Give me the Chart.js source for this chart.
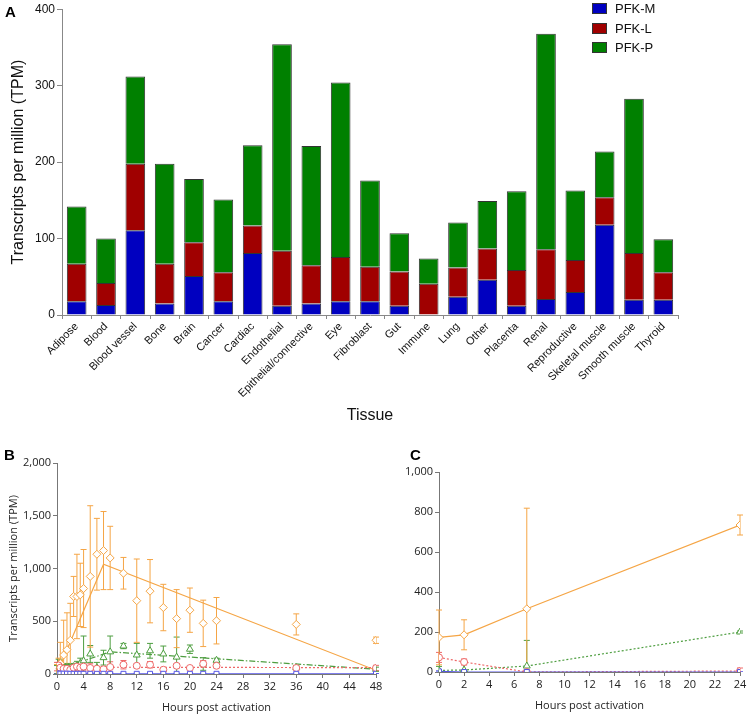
<!DOCTYPE html>
<html>
<head>
<meta charset="utf-8">
<script src="https://cdn.jsdelivr.net/npm/chart.js@4"></script>
<style>
  body { margin: 0; background: #fff; width: 750px; height: 720px; position: relative; overflow: hidden; }
  canvas { position: absolute; }
  .panel { position: absolute; font: bold 15px "Liberation Sans", Arial, sans-serif; color: #000; }
  .legend { position: absolute; left: 592px; top: 2px; font: 13px "Liberation Sans", Arial, sans-serif; color: #111; }
  .legend div { height: 19.5px; line-height: 13px; white-space: nowrap; }
  .legend span { display: inline-block; width: 13px; height: 9px; border: 1px solid #333; margin-right: 8px; vertical-align: -1px; }
</style>
</head>
<body>
<canvas id="chartA" width="750" height="430" style="left:0;top:0"></canvas>
<canvas id="chartB" width="400" height="280" style="left:0;top:440px"></canvas>
<canvas id="chartC" width="355" height="280" style="left:395px;top:440px"></canvas>
<div class="panel" style="left:5px;top:3px">A</div>
<div class="panel" style="left:4px;top:446px">B</div>
<div class="panel" style="left:410px;top:446px">C</div>
<div class="legend">
  <div><span style="background:#0000C0"></span>PFK-M</div>
  <div><span style="background:#A00000"></span>PFK-L</div>
  <div><span style="background:#008000"></span>PFK-P</div>
</div>
<script>
// Panel A: TPM per tissue, stacked
const tissues = ["Adipose", "Blood", "Blood vessel", "Bone", "Brain", "Cancer", "Cardiac", "Endothelial",
  "Epithelial/connective", "Eye", "Fibroblast", "Gut", "Immune", "Lung", "Other", "Placenta", "Renal",
  "Reproductive", "Skeletal muscle", "Smooth muscle", "Thyroid"];
const pfkM = [18, 13, 111, 15, 51, 18, 81, 12, 15, 18, 18, 12, 0, 24, 46, 12, 21, 30, 118, 20, 20];
const pfkL = [49, 29, 87, 52, 44, 38, 36, 72, 50, 58, 45, 45, 41, 38, 41, 47, 65, 42, 36, 61, 36];
const pfkP = [75, 58, 114, 131, 83, 95, 105, 270, 156, 228, 113, 50, 33, 59, 62, 103, 282, 91, 60, 202, 43];

// Panel B: time course after activation (hours)
const timesB = [0, 0.25, 0.5, 1, 1.5, 2, 2.5, 3, 3.5, 4, 5, 6, 7, 8, 10, 12, 14, 16, 18, 20, 22, 24, 36, 48];
const orangeB = [30, 60, 100, 180, 230, 320, 735, 735, 750, 810, 925, 1135, 1170, 1100, 955, 695, 785, 630, 525, 605, 480, 505, 470, 320];
const orangeSdB = [60, 90, 200, 330, 350, 350, 190, 400, 300, 370, 670, 340, 370, 300, 150, 395, 300, 220, 275, 210, 220, 220, 100, 30];
const greenB = [40, 60, 70, 50, 60, 60, 70, 80, 100, 125, 190, 60, 155, 210, 265, 180, 220, 190, 160, 235, 95, 130, 60, 45];
const greenSdB = [40, 80, 60, 40, 40, 30, 30, 40, 50, 235, 80, 50, 70, 150, 25, 110, 70, 75, 190, 40, 60, 20, 20, 20];
const redB = [70, 80, 60, 50, 50, 40, 60, 70, 60, 70, 57, 50, 45, 66, 88, 78, 88, 40, 78, 57, 97, 78, 57, 57];
const redSdB = [40, 30, 40, 30, 20, 30, 30, 30, 40, 40, 40, 20, 20, 50, 40, 20, 30, 15, 20, 15, 30, 20, 15, 25];
const blueB = [3, 3, 3, 3, 3, 2, 2, 2, 2, 2, 2, 2, 2, 2, 2, 2, 2, 2, 2, 2, 2, 2, 2, 2];
const blueSdB = [2, 2, 2, 2, 2, 2, 2, 2, 2, 2, 2, 2, 2, 2, 2, 2, 2, 2, 2, 2, 2, 2, 2, 2];
// trend lines drawn in panel B
const orangeLineT = [0, 7, 48], orangeLineB = [10, 1040, 35];
const greenLineT = [0, 8, 48], greenLineB = [40, 210, 45];
const redLineT = [0, 48], redLineB = [65, 60];
const blueLineT = [0, 48], blueLineB = [2, 2];

// Panel C
const timesC = [0, 2, 7, 24];
const orangeC = [173, 186, 316, 735], orangeSdC = [137, 75, 503, 50];
const greenC = [8, 10, 30, 200], greenSdC = [20, 40, 128, 5];
const redC = [73, 50, 0, 5], redSdC = [25, 15, 2, 15];
const blueC = [3, 0, 0, 0], blueSdC = [3, 1, 1, 1];

const ORANGE = "#F5A545", GREEN = "#4E9E40", RED = "#EE6868", BLUE = "#5656E6";
const sans = "'Open Sans', 'Noto Sans', sans-serif";

const pts = (xs, ys) => xs.map((x, i) => ({ x, y: ys[i] }));

// draws vertical error bars from each dataset's sd array
const errorBars = {
  id: "errorBars",
  beforeDatasetsDraw(chart) {
    const { ctx, chartArea, scales: { x, y } } = chart;
    ctx.save();
    ctx.beginPath();
    ctx.rect(chartArea.left - 5, chartArea.top - 5, chartArea.width + 10, chartArea.height + 5);
    ctx.clip();
    chart.data.datasets.forEach(ds => {
      if (!ds.sd) return;
      ctx.strokeStyle = ds.borderColor;
      ctx.lineWidth = 1;
      ds.data.forEach((p, i) => {
        const px = x.getPixelForValue(p.x);
        const hi = y.getPixelForValue(p.y + ds.sd[i]);
        const lo = y.getPixelForValue(p.y - ds.sd[i]);
        ctx.beginPath();
        ctx.moveTo(px, hi); ctx.lineTo(px, lo);
        ctx.moveTo(px - 3, hi); ctx.lineTo(px + 3, hi);
        ctx.moveTo(px - 3, lo); ctx.lineTo(px + 3, lo);
        ctx.stroke();
      });
    });
    ctx.restore();
  }
};

new Chart(document.getElementById("chartA"), {
  type: "bar",
  data: {
    labels: tissues,
    datasets: [
      { label: "PFK-M", data: pfkM, backgroundColor: "#0000C0" },
      { label: "PFK-L", data: pfkL, backgroundColor: "#A00000" },
      { label: "PFK-P", data: pfkP, backgroundColor: "#008000" }
    ]
  },
  options: {
    responsive: false,
    animation: false,
    layout: { padding: { left: 0, right: 72, top: 8, bottom: 0 } },
    datasets: { bar: { borderColor: "#333", borderWidth: 1, barPercentage: 0.67, categoryPercentage: 1 } },
    plugins: { legend: { display: false }, tooltip: { enabled: false } },
    scales: {
      x: {
        stacked: true,
        grid: { drawOnChartArea: false, tickLength: 4, color: "#888" },
        border: { color: "#888" },
        ticks: { minRotation: 45, maxRotation: 45, padding: 1, color: "#111", font: { family: "'Liberation Sans', Arial", size: 11 } },
        title: { display: true, text: "Tissue", color: "#111", font: { family: "'Liberation Sans', Arial", size: 16 }, padding: { top: 0, bottom: 5 } },
        afterFit: s => { s.height = 115; }
      },
      y: {
        stacked: true, min: 0, max: 400,
        grid: { drawOnChartArea: false, tickLength: 5, color: "#888" },
        border: { color: "#888" },
        ticks: { stepSize: 100, padding: 2, color: "#111", font: { family: "'Liberation Sans', Arial", size: 12 } },
        title: { display: true, text: "Transcripts per million (TPM)", color: "#111", font: { family: "'Liberation Sans', Arial", size: 16 }, padding: { top: 9, bottom: 0 } },
        afterFit: s => { s.width = 62; }
      }
    }
  }
});

function lineSet(xs, ys, color, dash) {
  return { data: pts(xs, ys), showLine: true, pointRadius: 0, borderColor: color, borderWidth: 1.2, borderDash: dash };
}
function markSet(xs, ys, sd, color, style, r) {
  return { data: pts(xs, ys), sd, showLine: false, pointStyle: style, pointRadius: r, borderWidth: 1, borderColor: color, backgroundColor: "#fff" };
}
function timeOptions(xMax, xStep, yMax, yStep, pad, yTitle, yWidth, xHeight, titleBottom) {
  return {
    responsive: false,
    animation: false,
    layout: { padding: pad },
    plugins: { legend: { display: false }, tooltip: { enabled: false } },
    scales: {
      x: {
        type: "linear", min: 0, max: xMax,
        grid: { drawOnChartArea: false, tickLength: 4, color: "#777" },
        border: { color: "#777" },
        ticks: { stepSize: xStep, padding: 2, color: "#222", font: { family: sans, size: 11 } },
        title: { display: true, text: "Hours post activation", color: "#222", font: { family: sans, size: 11 }, padding: { top: 0, bottom: titleBottom } },
        afterFit: s => { s.height = xHeight; }
      },
      y: {
        min: 0, max: yMax,
        grid: { drawOnChartArea: false, tickLength: 4, color: "#777" },
        border: { color: "#777" },
        ticks: { stepSize: yStep, padding: 2, color: "#222", font: { family: sans, size: 11 }, callback: v => v.toLocaleString("en-US") },
        title: { display: !!yTitle, text: yTitle, color: "#222", font: { family: sans, size: 11 }, padding: { top: 7, bottom: 0 } },
        afterFit: s => { s.width = yWidth; }
      }
    }
  };
}

new Chart(document.getElementById("chartB"), {
  type: "scatter",
  data: {
    datasets: [
      markSet(timesB, blueB, blueSdB, BLUE, "rect", 3.5),
      markSet(timesB, redB, redSdB, RED, "circle", 3.5),
      markSet(timesB, greenB, greenSdB, GREEN, "triangle", 4),
      markSet(timesB, orangeB, orangeSdB, ORANGE, "rectRot", 4),
      lineSet(blueLineT, blueLineB, BLUE, []),
      lineSet(redLineT, redLineB, RED, [2, 2]),
      lineSet(greenLineT, greenLineB, GREEN, [6, 2, 1.5, 2]),
      lineSet(orangeLineT, orangeLineB, ORANGE, [])
    ]
  },
  options: timeOptions(48, 4, 2000, 500, { left: 0, right: 24, top: 23, bottom: 0 }, "Transcripts per million (TPM)", 57, 46, 6),
  plugins: [errorBars]
});

new Chart(document.getElementById("chartC"), {
  type: "scatter",
  data: {
    datasets: [
      markSet(timesC, blueC, blueSdC, BLUE, "rect", 3.5),
      markSet(timesC, redC, redSdC, RED, "circle", 3.5),
      markSet(timesC, greenC, greenSdC, GREEN, "triangle", 4),
      markSet(timesC, orangeC, orangeSdC, ORANGE, "rectRot", 4),
      lineSet(timesC, blueC, BLUE, []),
      lineSet(timesC, redC, RED, [2, 2]),
      lineSet(timesC, greenC, GREEN, [2, 2]),
      lineSet(timesC, orangeC, ORANGE, [])
    ]
  },
  options: timeOptions(24, 2, 1000, 200, { left: 0, right: 10, top: 32, bottom: 0 }, "", 44, 48, 8),
  plugins: [errorBars]
});
</script>
</body>
</html>
